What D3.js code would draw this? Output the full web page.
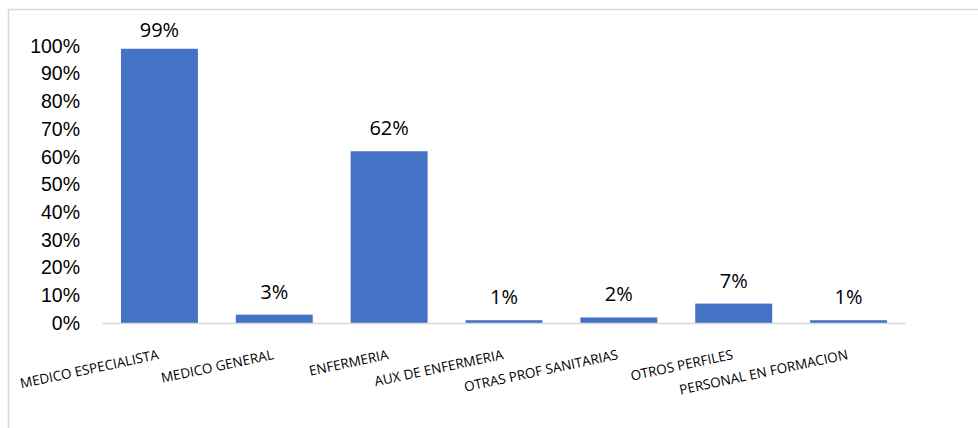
<!DOCTYPE html>
<html>
<head>
<meta charset="utf-8">
<script src="https://d3js.org/d3.v7.min.js"></script>
<style>
body { margin: 0; background: #fff; }
svg { font-family: 'Open Sans', Calibri, sans-serif; }
.axis text { fill: #000; font-size: 19.5px; }
.axis .domain { display: none; }
.axis line { display: none; }
</style>
</head>
<body>
<div id="chart"></div>
<script>
// Chart data
var categories = ["MEDICO ESPECIALISTA", "MEDICO GENERAL", "ENFERMERIA", "AUX DE ENFERMERIA",
  "OTRAS PROF SANITARIAS", "OTROS PERFILES", "PERSONAL EN FORMACION"];
var values = [0.99, 0.03, 0.62, 0.01, 0.02, 0.07, 0.01];
var labels = ["99%", "3%", "62%", "1%", "2%", "7%", "1%"];
var yTicks = [0, 0.1, 0.2, 0.3, 0.4, 0.5, 0.6, 0.7, 0.8, 0.9, 1.0];

var width = 978;
var height = 428;

var svg = d3.select("#chart").append("svg")
  .attr("width", width).attr("height", height);

// outer frame of the chart area
svg.append("rect")
  .attr("x", 8.5).attr("y", 9.5)
  .attr("width", 1000).attr("height", 600)
  .attr("fill", "none").attr("stroke", "#d9d9d9").attr("stroke-width", 1.5);

var xScale = d3.scaleBand().domain(categories).range([102, 906])
  .paddingInner(0.33).paddingOuter(0.165);
var yScale = d3.scaleLinear().domain([0, 1]).range([323, 46]);

var yAxis = d3.axisLeft(yScale).tickValues(yTicks).tickSize(0).tickPadding(0)
  .tickFormat(d3.format(".0%"));
svg.append("g").attr("class", "axis")
  .attr("transform", "translate(80,0)")
  .call(yAxis);

// bars
svg.selectAll("rect.bar")
  .data(values).enter().append("rect")
  .attr("class", "bar")
  .attr("x", function (d, i) { return xScale(categories[i]); })
  .attr("width", xScale.bandwidth())
  .attr("y", function (d) { return yScale(d); })
  .attr("height", function (d) { return yScale(0) - yScale(d); })
  .attr("fill", "#4472c4");

// baseline
svg.append("line")
  .attr("x1", 102).attr("x2", 906)
  .attr("y1", yScale(0) + 0.5).attr("y2", yScale(0) + 0.5)
  .attr("stroke", "#d9d9d9").attr("stroke-width", 1.5);

// value labels
svg.selectAll("text.value")
  .data(values).enter().append("text")
  .attr("class", "value")
  .attr("x", function (d, i) { return xScale(categories[i]) + xScale.bandwidth() / 2; })
  .attr("y", function (d) { return Math.max(yScale(d) - 16, 37); })
  .attr("text-anchor", "middle")
  .style("font-size", "20px")
  .text(function (d, i) { return labels[i]; });

// rotated category labels
svg.selectAll("text.cat")
  .data(categories).enter().append("text")
  .attr("class", "cat")
  .attr("transform", function (d) {
    return "translate(" + (xScale(d) + xScale.bandwidth() / 2) + ",359) rotate(-12)";
  })
  .attr("text-anchor", "end")
  .style("font-size", "13.5px")
  .text(function (d) { return d; });
</script>
</body>
</html>
